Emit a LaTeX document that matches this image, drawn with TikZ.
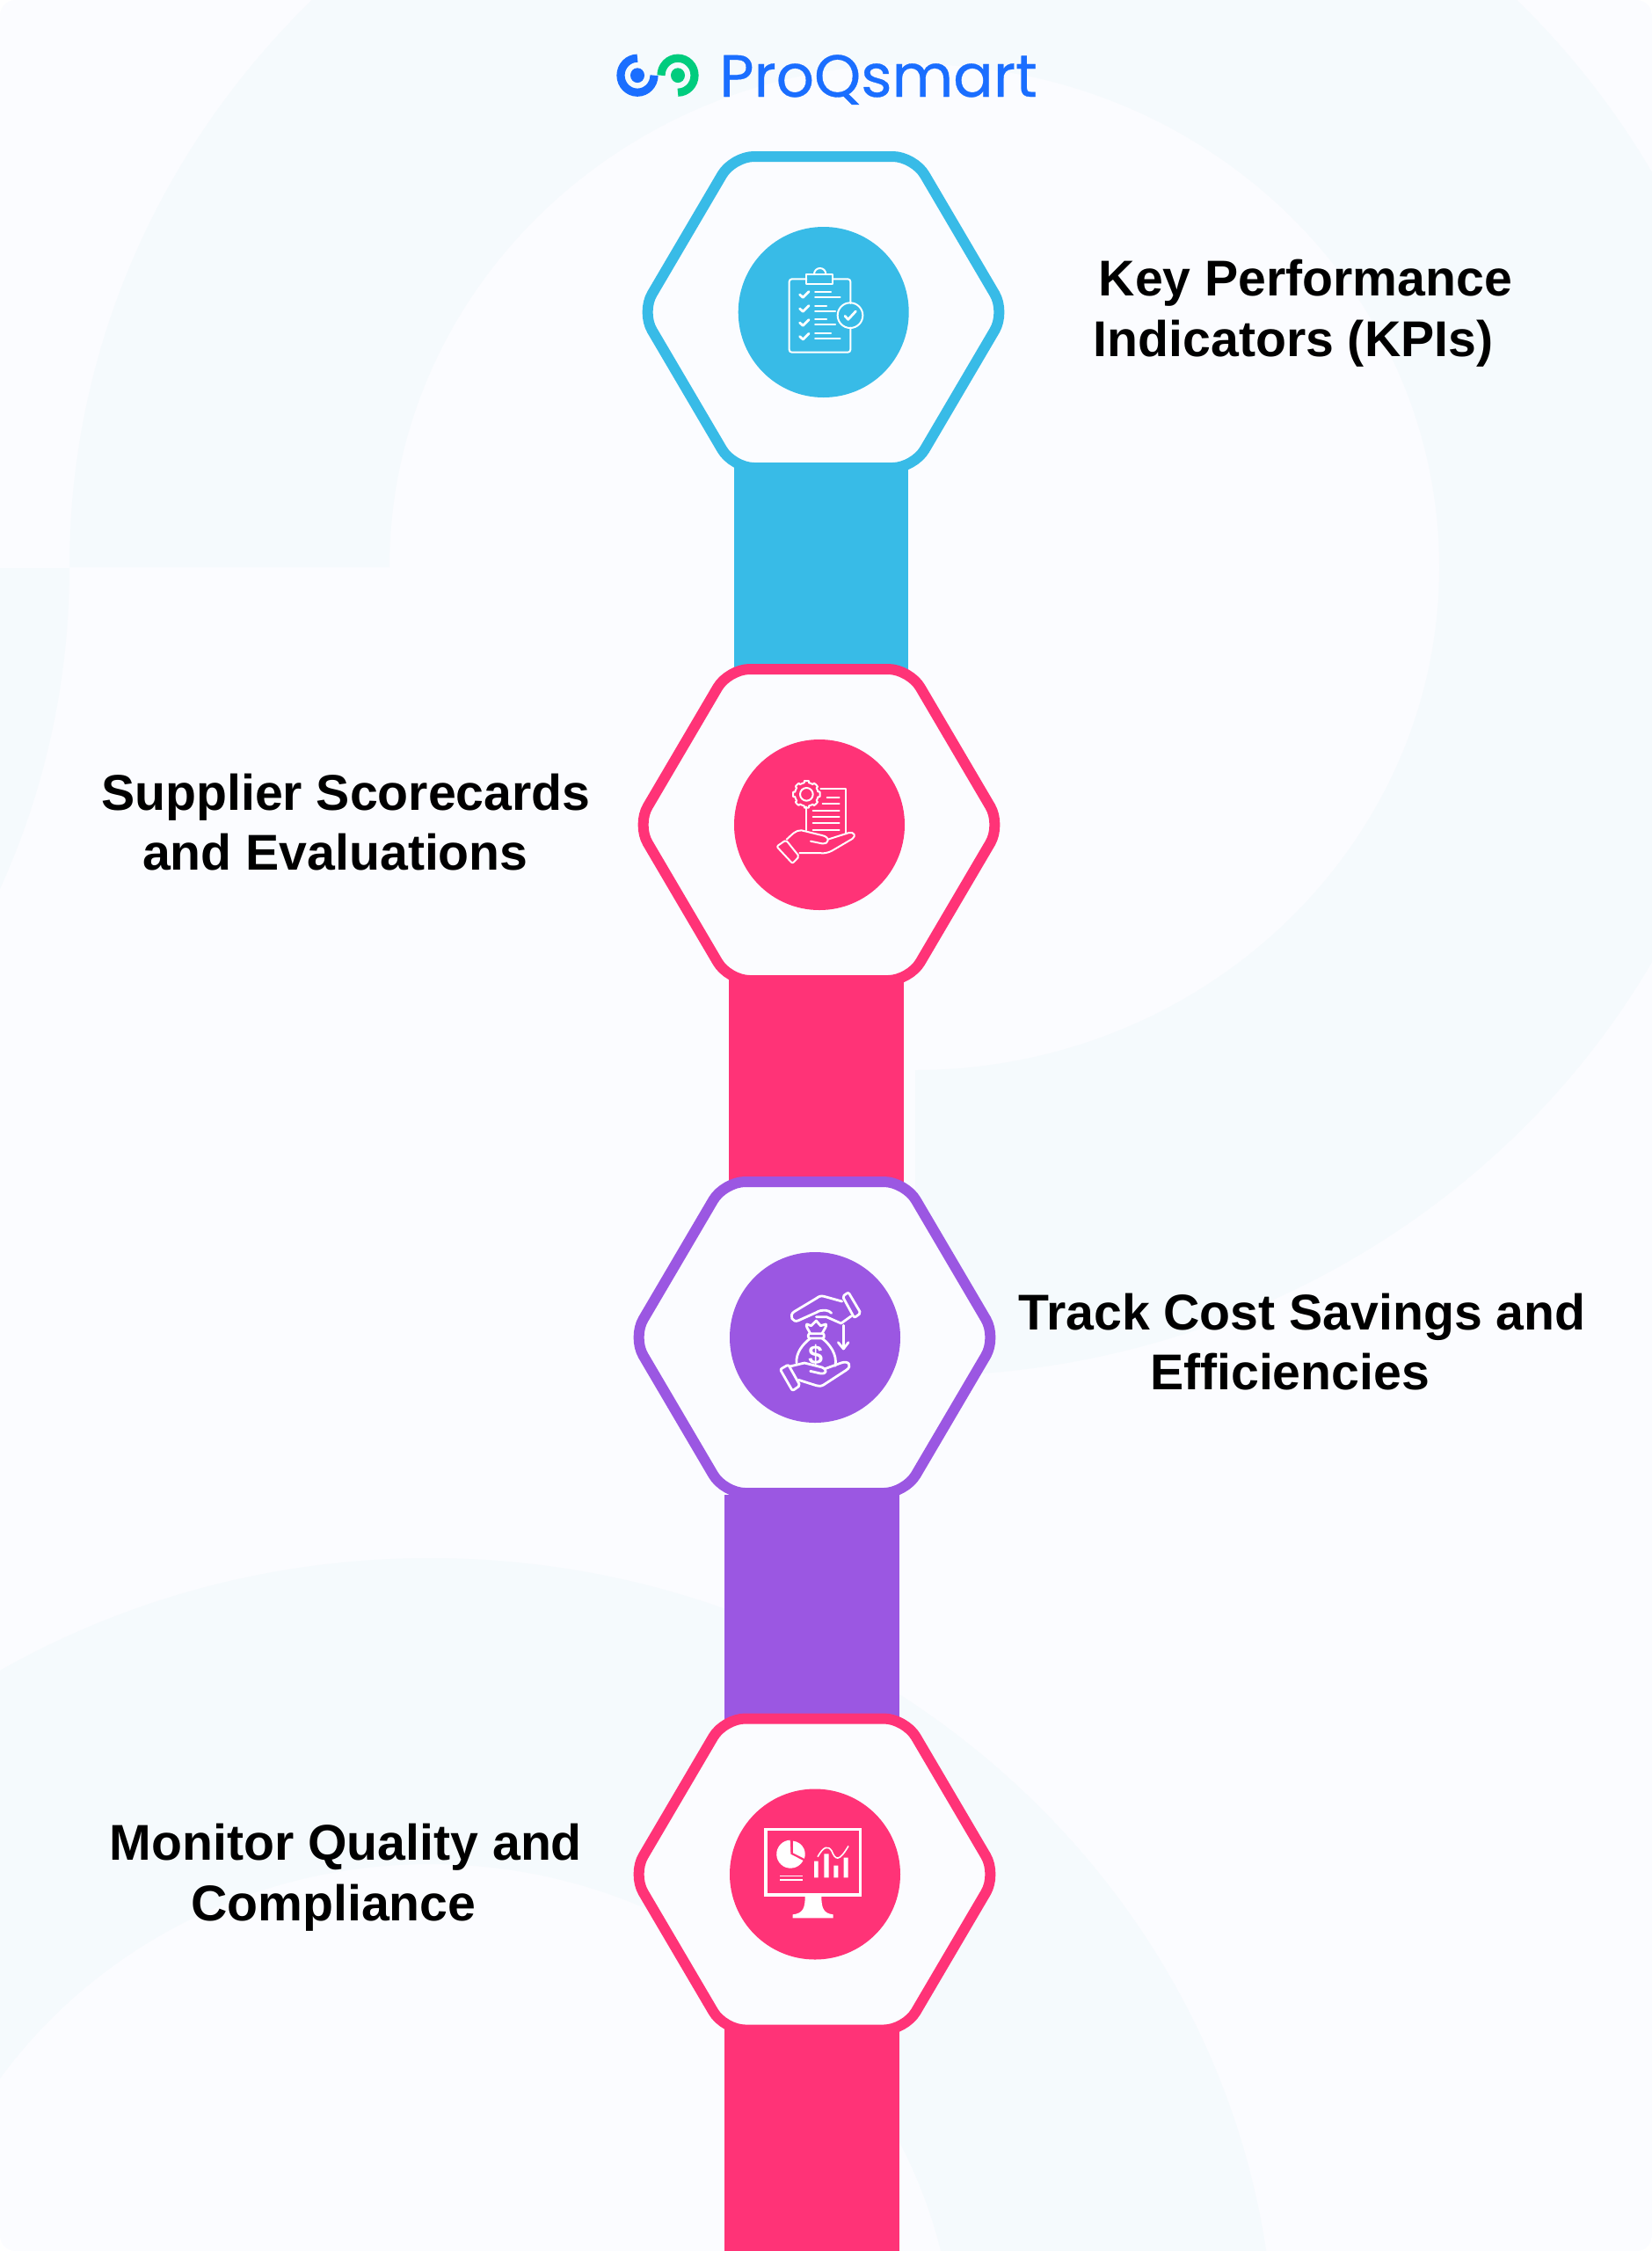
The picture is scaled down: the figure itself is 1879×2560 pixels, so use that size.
\documentclass[tikz,border=0pt]{standalone}
\usepackage{fontspec}
\setmainfont{Liberation Sans}
\newfontfamily\logofont[FakeBold=0.5]{Poppins}
\definecolor{pagebg}{HTML}{FBFCFF}
\definecolor{ringbg}{HTML}{F5FAFD}
\definecolor{cyanc}{HTML}{38BBE7}
\definecolor{pinkc}{HTML}{FF3377}
\definecolor{purplec}{HTML}{9B57E2}
\definecolor{logoblue}{HTML}{1A6EFF}
\definecolor{logogreen}{HTML}{00CC7E}
\tikzset{
  hexline/.style={line width=6pt,fill=pagebg,rounded corners=12pt,line join=round},
  barline/.style={line width=99.3pt,line cap=butt},
  badge/.style={circle,minimum size=97pt,inner sep=0pt},
  labeltext/.style={font=\fontsize{28.6}{34.4}\selectfont\bfseries,align=center,text=black,inner sep=0pt},
  iconline/.style={draw=white,line width=1pt,line cap=round,line join=round},
  iconthick/.style={draw=white,line width=1.4pt,line cap=round,line join=round},
  iconscope/.style={x=0.16667pt,y=-0.16667pt}
}
\newcommand{\hexa}[3]{\draw[hexline,draw=#3,shift={(#1,#2)}] (-103,-177) -- (103,-177) -- (207,0) -- (103,177) -- (-103,177) -- (-207,0) -- cycle;}
\begin{document}
\begin{tikzpicture}[x=0.5pt,y=-0.5pt]
\useasboundingbox (0,0) rectangle (1879,2560);
\fill[white] (0,0) rectangle (1879,2560);
\begin{scope}
  \clip[rounded corners=9pt] (0,0) rectangle (1879,2560);
  \fill[pagebg] (0,0) rectangle (1879,2560);
  % large upper ring, three quarters
  \begin{scope}
    \clip (0,0) -- (1879,0) -- (1879,2560) -- (1041,2560) -- (1041,645) -- (0,645) -- cycle;
    \fill[ringbg,even odd rule] (1040,645) ellipse [x radius=961,y radius=920] (1040,645) ellipse [x radius=597,y radius=572];
  \end{scope}
  % sliver on the left
  \begin{scope}
    \clip (0,646) rectangle (120,1100);
    \fill[ringbg] (-882,645) ellipse [x radius=961,y radius=920];
  \end{scope}
  % lower ring
  \fill[ringbg,even odd rule] (489,2692) ellipse [x radius=961,y radius=920] (489,2692) ellipse [x radius=597,y radius=572];
\end{scope}

% logo
\draw[logoblue,line width=4.6pt] (725,66.2) arc[start angle=-90,delta angle=-270,x radius=19,y radius=19.5];
\fill[logoblue] (725,85.7) ellipse [x radius=8,y radius=8.4];
\draw[logogreen,line width=4.6pt] (752,85.7) arc[start angle=180,delta angle=270,x radius=19,y radius=19.5];
\fill[logogreen] (771,85.7) ellipse [x radius=8,y radius=8.4];
\node[anchor=base west,inner sep=0pt,text=logoblue,font=\logofont\fontsize{33.8}{40}\selectfont] (logotext) at (818,110) {ProQsmart};

% connecting bars
\coordinate (bar1a) at (934,530);
\coordinate (bar1b) at (934,780);
\coordinate (bar2a) at (928.5,1110);
\coordinate (bar2b) at (928.5,1360);
\coordinate (bar3a) at (923.5,1700);
\coordinate (bar3b) at (923.5,1960);
\coordinate (bar4a) at (923.5,2300);
\coordinate (bar4b) at (923.5,2560);
\draw[barline,cyanc] (bar1a) -- (bar1b);
\draw[barline,pinkc] (bar2a) -- (bar2b);
\draw[barline,purplec] (bar3a) -- (bar3b);
\draw[barline,pinkc] (bar4a) -- (bar4b);

% hexagons
\hexa{936.5}{355}{cyanc}
\hexa{931.5}{938}{pinkc}
\hexa{926.5}{1521}{purplec}
\hexa{926.5}{2131.5}{pinkc}

% badges
\node[badge,fill=cyanc] (badge1) at (936.7,355) {};
\node[badge,fill=pinkc] (badge2) at (932,938) {};
\node[badge,fill=purplec] (badge3) at (927,1521) {};
\node[badge,fill=pinkc] (badge4) at (927,2131.5) {};

% labels
\node[labeltext] (label1) at (1485,356) {Key Performance\\Indicators (KPIs)\hspace*{14pt}};
\node[labeltext] (label2) at (393.4,935) {Supplier Scorecards\\and Evaluations\hspace*{12pt}};
\node[labeltext] (label3) at (1481,1526) {Track Cost Savings and\\Efficiencies\hspace*{14pt}};
\node[labeltext] (label4) at (393.4,2135) {Monitor Quality and\\Compliance\hspace*{14pt}};

% icon 1: clipboard
\begin{scope}[shift={(800,240)},iconscope]
  \draw[iconline,rounded corners=1.5pt] (502,315) -- (502,232) -- (442,232) (352,232) -- (293,232) -- (293,482) -- (502,482) -- (502,398);
  \draw[iconline] (352,215) rectangle (442,248);
  \draw[iconline] (378,215) arc[start angle=180,end angle=360,radius=20];
  \draw[iconline] (501,356) circle (43);
  \draw[iconthick] (483,358) -- (494,370) -- (520,342);
  \foreach \yy in {285,333,381,428}{
    \draw[iconthick] (329,\yy) -- (340,\yy+10) -- (360,\yy-10);
  }
  \foreach \ya/\xa/\yb/\xb in {275/435/293/467,323/420/341/450,370/420/388/450,418/435/436/467}{
    \draw[iconline] (381,\ya) -- (\xa,\ya);
    \draw[iconline] (381,\yb) -- (\xb,\yb);
  }
\end{scope}

% icon 2: hand with document and gear
\begin{scope}[shift={(800,820)},iconscope]
  \draw[iconline] (352,250) circle (22);
  \draw[iconline] plot[domain=0:360,samples=200] ({352+(40+6*(cos(8*\x)>0?1:0))*cos(\x)},{250+(40+6*(cos(8*\x)>0?1:0))*sin(\x)});
  \draw[iconline] (400,232) -- (486,232) -- (486,385);
  \draw[iconline] (352,292) -- (352,372);
  \draw[iconline] (422,260) -- (464,260);
  \draw[iconline] (407,283) -- (464,283);
  \foreach \yy in {305,327,349,371}{\draw[iconline] (374,\yy) -- (464,\yy);}
  \draw[iconline,rounded corners=1pt] (250,428) -- (282,406) -- (327,462) -- (304,486) -- cycle;
  \draw[iconline] (284,404) .. controls (305,385) and (315,372) .. (335,373) -- (405,390) .. controls (432,395) and (432,420) .. (405,418) -- (366,410);
  \draw[iconline] (428,403) -- (497,381) .. controls (515,378) and (522,392) .. (508,402) -- (440,442) .. controls (420,452) and (410,452) .. (395,450) -- (328,450);
\end{scope}

% icon 3: hands and money bag
\begin{scope}[shift={(800,1410)},iconscope]
  \draw[iconthick,rounded corners=1pt] (475,193) -- (495,179) -- (537,250) -- (515,266) -- cycle;
  \draw[iconthick] (473,210) -- (412,193) .. controls (400,190) and (395,193) .. (385,200) -- (310,245) .. controls (290,258) and (305,285) .. (325,275) -- (385,248) .. controls (405,235) and (430,240) .. (437,250);
  \draw[iconthick] (385,263) -- (420,263) -- (470,285) -- (505,260);
  \draw[iconthick] (478,292) -- (478,370);
  \draw[iconthick] (460,350) -- (478,372) -- (495,350);
  \draw[iconthick,rounded corners=1pt] (358,320) rectangle (412,336);
  \draw[iconthick] (365,320) .. controls (358,305) and (348,295) .. (353,288) -- (368,293) -- (385,276) -- (400,293) -- (418,288) .. controls (422,295) and (412,305) .. (405,320);
  \draw[iconthick] (365,336) .. controls (340,355) and (315,385) .. (318,420);
  \draw[iconthick] (405,336) .. controls (430,355) and (458,390) .. (450,430);
  \node[text=white,inner sep=0pt,font=\bfseries\fontsize{15}{15}\selectfont] (dollar) at (383,395) {\$};
  \draw[iconthick,rounded corners=1pt] (262,442) -- (290,426) -- (330,497) -- (304,515) -- cycle;
  \draw[iconthick] (295,432) -- (345,420) -- (405,435) .. controls (425,445) and (420,458) .. (400,456) -- (365,448);
  \draw[iconthick] (415,440) -- (470,420) .. controls (495,410) and (510,430) .. (487,445) -- (410,495) .. controls (400,500) and (395,500) .. (385,497) -- (325,478);
\end{scope}

% icon 4: monitor with charts
\begin{scope}[shift={(800,2020)},iconscope]
  \draw[white,line width=1.7pt] (213,182) rectangle (535,405);
  \fill[white] (347,410) .. controls (347,450) and (340,468) .. (305,472) -- (305,484) -- (443,484) -- (443,472) .. controls (410,468) and (403,450) .. (403,410) -- cycle;
  \fill[white] (298,266) -- (296,218) arc[start angle=-92,delta angle=-241,radius=48] -- cycle;
  \fill[white] (306,221) arc[start angle=-85,delta angle=105,radius=45] -- (306,262) -- cycle;
  \draw[white,line width=0.7pt] (262,340) -- (338,340) (262,354) -- (338,354);
  \fill[white] (378,290) rectangle (392,346) (412,265) rectangle (428,346) (445,305) rectangle (460,346) (479,278) rectangle (494,346);
  \draw[white,line width=0.8pt] (390,275) .. controls (410,240) and (425,235) .. (438,255) .. controls (450,285) and (462,295) .. (495,238);
\end{scope}
\end{tikzpicture}
\end{document}
